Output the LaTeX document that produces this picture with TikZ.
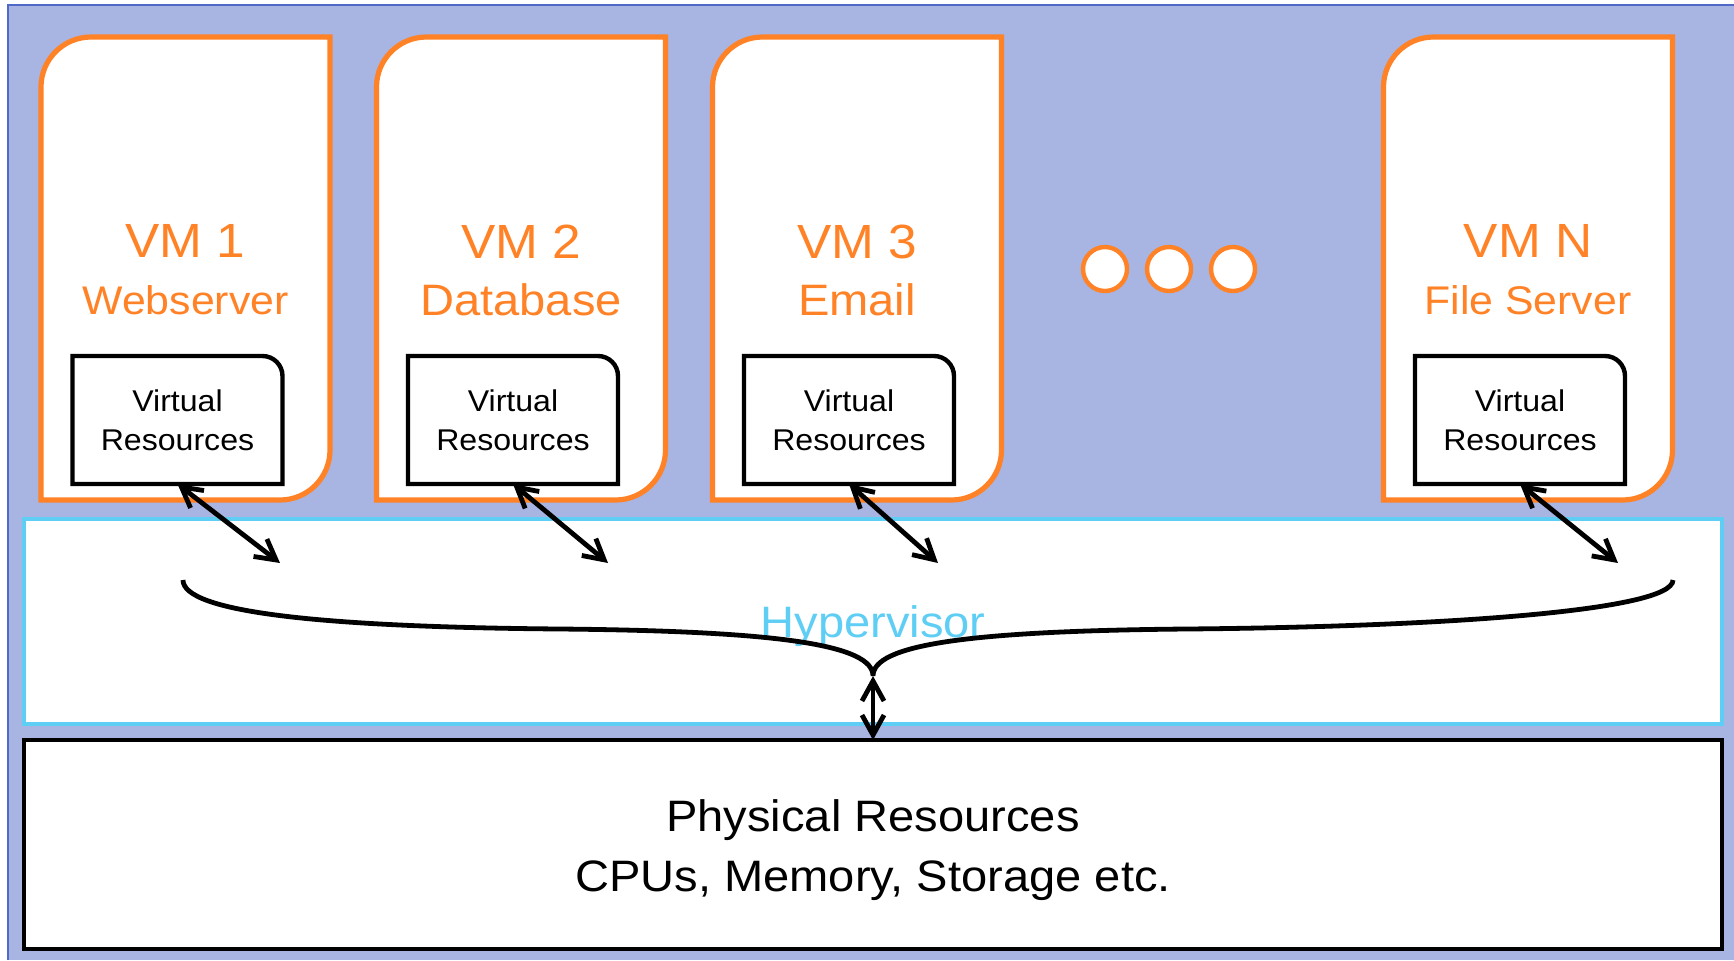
\documentclass[tikz,border=0pt]{standalone}
\usepackage{fontspec}
\setmainfont[FakeStretch=1.07]{Liberation Sans}
\usetikzlibrary{arrows.meta}
\definecolor{slidebg}{RGB}{168,180,226}
\definecolor{slideedge}{RGB}{80,104,200}
\definecolor{vmorange}{RGB}{255,130,38}
\definecolor{hypcyan}{RGB}{95,206,245}

\begin{document}
\begin{tikzpicture}
[x=0.5pt,y=-0.5pt,%
  >={Straight Barb[length=10pt,width=11pt]},%
  every node/.style={inner sep=0pt,outer sep=0pt},%
  vm/.style={minimum width=144.5pt,minimum height=231.5pt},%
  vmline/.style={draw=vmorange,fill=white,line width=2.6pt},%
  vmtext/.style={text=vmorange,align=center,font=\fontsize{24}{28.5}\selectfont},%
  vres/.style={minimum width=105pt,minimum height=64pt,align=center,%
    font=\fontsize{15}{19.5}\selectfont},%
  vrline/.style={draw,line width=2.2pt},%
  layer/.style={minimum width=849pt,minimum height=102.5pt,fill=white,line width=2.3pt},%
  layertext/.style={align=center,font=\fontsize{22}{30}\selectfont},%
  dot/.style={circle,minimum size=22pt,draw=vmorange,fill=white,line width=2.2pt},%
  link/.style={<->,line width=2.4pt}]
\useasboundingbox (0,0) rectangle (1734,960);
\fill[slidebg] (8,5) rectangle (1734,960);
\draw[slideedge,line width=1.1pt] (8,960) -- (8,5) -- (1734,5);

\node[layer,draw=hypcyan] (hyp) at (873,621.5) {};
\node[layertext,text=hypcyan] (hyplabel) at ([yshift=-2.5pt]hyp.center) {Hypervisor};
\node[layer,draw=black,minimum height=104.5pt] (phys) at (873,844.5) {};
\node[layertext] (physlabel) at ([yshift=-3pt]phys.center)
  {Physical Resources\\CPUs, Memory, Storage etc.};

% the virtual machines
\foreach \x/\k/\role/\rs/\tip in {185.5/1/Webserver/20/280,521/2/Database/22/608,857/3/Email/22/938,1528/N/File Server/20/1618}
{
  \node[vm] (vm\k) at (\x,268.5) {};
  \draw[vmline] (vm\k.west) [rounded corners=25pt] -- (vm\k.north west) -- (vm\k.north)
    [sharp corners] -- (vm\k.north east) -- (vm\k.east)
    [rounded corners=25pt] -- (vm\k.south east) -- (vm\k.south)
    [sharp corners] -- (vm\k.south west) -- cycle;
  \node[vmtext] (name\k) at (\x,270)
    {VM \k\\\fontsize{\rs}{28.5}\selectfont \role};
  \node[vres] (vr\k) at (\x-8,420) {Virtual\\Resources};
  \draw[vrline] (vr\k.north) [rounded corners=10pt] -- (vr\k.north east) -- (vr\k.east)
    [sharp corners] -- (vr\k.south east) -- (vr\k.south west) -- (vr\k.north west) -- cycle;
  \coordinate (end\k) at (\tip,563);
  \draw[link] (vr\k.south) -- (end\k);
}

\foreach \i/\x in {1/1105,2/1169,3/1233}
  \node[dot] (dot\i) at (\x,269) {};

% brace down to the hardware
\coordinate (bl) at (183,580);
\coordinate (br) at (1673,580);
\coordinate (bt) at (873,676);
\draw[line width=2.4pt] (bl) .. controls (183,612) and (320,627) .. (560,629)
  .. controls (780,631) and (873,645) .. (bt)
  .. controls (873,645) and (966,631) .. (1186,629)
  .. controls (1426,627) and (1673,612) .. (br);
\draw[link] (bt) -- (bt |- phys.north);
\end{tikzpicture}
\end{document}
